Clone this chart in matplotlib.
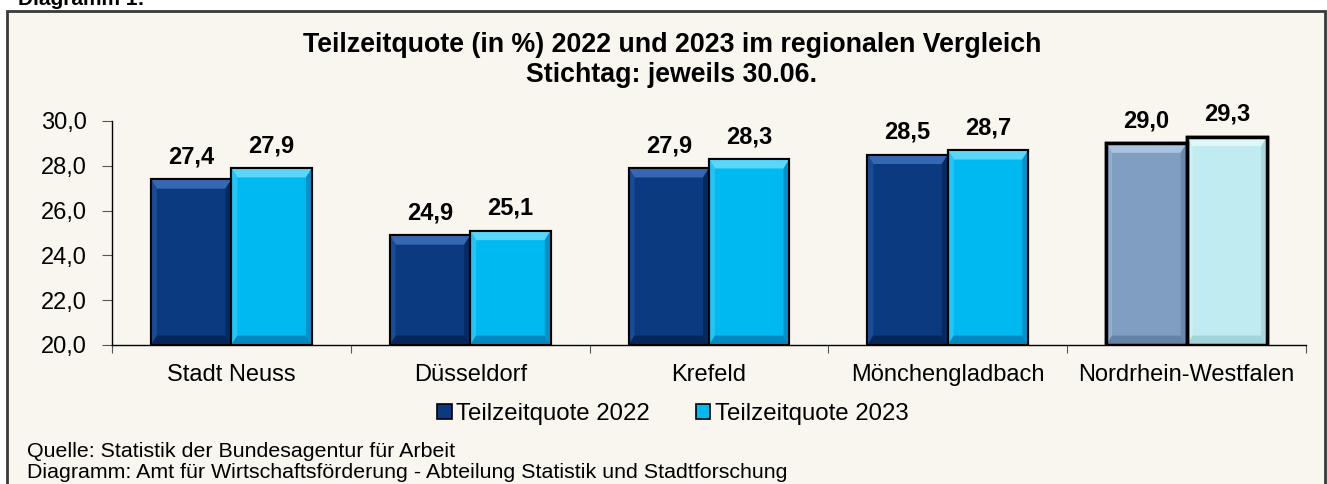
import matplotlib.pyplot as plt
import numpy as np
from matplotlib.patches import Patch, Polygon, Rectangle

plt.rcParams["font.family"] = ["Liberation Sans", "DejaVu Sans"]

# ---- data ----
regions = ["Stadt Neuss", "Düsseldorf", "Krefeld", "Mönchengladbach", "Nordrhein-Westfalen"]
quote_2022 = [27.4, 24.9, 27.9, 28.5, 29.0]
quote_2023 = [27.9, 25.1, 28.3, 28.7, 29.3]
series_labels = ["Teilzeitquote 2022", "Teilzeitquote 2023"]
y_ticks = [20.0, 22.0, 24.0, 26.0, 28.0, 30.0]

Y_MIN, Y_MAX = 20.0, 30.0
BG = "#f8f6ee"

# face, top bevel, left bevel, right bevel, bottom bevel
PAL_22 = ("#0b3a80", "#3567b3", "#1a4b96", "#062b62", "#05265a")
PAL_23 = ("#00b9f0", "#5ad6f9", "#22c5f5", "#0093cc", "#0089c0")
PAL_22_NRW = ("#7f9ec0", "#a9c3de", "#90afcf", "#6a89ab", "#6583a5")
PAL_23_NRW = ("#c0ebf0", "#e0f7f9", "#cff1f5", "#a8d9df", "#a3d4da")


def bevel(ax, rect, pal, bx=0.025, by=0.42):
    """Fake the Excel bevel look with four trapezoids around the bar face."""
    x0, y0 = rect.get_x(), rect.get_y()
    x1, y1 = x0 + rect.get_width(), y0 + rect.get_height()
    face, top, left, right, bottom = pal
    polys = [
        ([(x0, y1), (x1, y1), (x1 - bx, y1 - by), (x0 + bx, y1 - by)], top),
        ([(x0, y0), (x0, y1), (x0 + bx, y1 - by), (x0 + bx, y0 + by)], left),
        ([(x1, y0), (x1, y1), (x1 - bx, y1 - by), (x1 - bx, y0 + by)], right),
        ([(x0, y0), (x1, y0), (x1 - bx, y0 + by), (x0 + bx, y0 + by)], bottom),
    ]
    for verts, col in polys:
        ax.add_patch(Polygon(verts, closed=True, facecolor=col, edgecolor="none", zorder=3))


fig = plt.figure(figsize=(13.27, 4.84), dpi=100, facecolor="white")

# outer frame of the chart object
fig.patches.append(
    Rectangle((7 / 1327, -0.05), 1318 / 1327, 1.05 - 11 / 484, transform=fig.transFigure,
              facecolor=BG, edgecolor="#3a3a3a", linewidth=2, zorder=-5)
)

ax = fig.add_axes([112 / 1327, 1 - 345 / 484, 1194 / 1327, 224 / 484])
ax.set_facecolor("none")

x = np.arange(len(regions))
width = 0.337
h22 = [v - Y_MIN for v in quote_2022]
h23 = [v - Y_MIN for v in quote_2023]
bars22 = ax.bar(x - width / 2, h22, width, bottom=Y_MIN, color=PAL_22[0], edgecolor="black",
                linewidth=1.5, zorder=2)
bars23 = ax.bar(x + width / 2, h23, width, bottom=Y_MIN, color=PAL_23[0], edgecolor="black",
                linewidth=1.5, zorder=2)

last = len(regions) - 1
for i, (r22, r23) in enumerate(zip(bars22, bars23)):
    if i == last:
        r22.set_facecolor(PAL_22_NRW[0])
        r23.set_facecolor(PAL_23_NRW[0])
        r22.set_linewidth(2.5)
        r23.set_linewidth(2.5)
        bevel(ax, r22, PAL_22_NRW)
        bevel(ax, r23, PAL_23_NRW)
    else:
        bevel(ax, r22, PAL_22)
        bevel(ax, r23, PAL_23)
    # redraw outlines above the bevel pieces
    for r in (r22, r23):
        ax.add_patch(Rectangle((r.get_x(), r.get_y()), r.get_width(), r.get_height(),
                               facecolor="none", edgecolor="black",
                               linewidth=r.get_linewidth(), zorder=4))

for rects, vals in ((bars22, quote_2022), (bars23, quote_2023)):
    for r, v in zip(rects, vals):
        ax.annotate(f"{v:.1f}".replace(".", ","), (r.get_x() + r.get_width() / 2, v),
                    xytext=(0, 11.5), textcoords="offset points", ha="center",
                    va="baseline", fontsize=17, fontweight="bold", zorder=5)

ax.set_xlim(-0.5, len(regions) - 0.5)
ax.set_ylim(Y_MIN, Y_MAX)
ax.set_yticks(y_ticks)
ax.set_yticklabels([f"{t:.1f}".replace(".", ",") for t in y_ticks], fontsize=17)
ax.set_xticks(np.arange(len(regions) + 1) - 0.5)
ax.set_xticklabels([])
ax.set_xticks(x, minor=True)
ax.set_xticklabels(regions, minor=True, fontsize=17)
ax.tick_params(axis="x", which="minor", length=0, pad=14)
ax.tick_params(axis="x", which="major", length=6, color="#555555", direction="out")
ax.tick_params(axis="y", length=7, color="#555555", direction="out", pad=11)
for side in ("top", "right"):
    ax.spines[side].set_visible(False)
for side in ("left", "bottom"):
    ax.spines[side].set_color("black")
    ax.spines[side].set_linewidth(1.0)

handles = [
    Patch(facecolor=PAL_22[0], edgecolor="black", linewidth=1.2),
    Patch(facecolor=PAL_23[0], edgecolor="black", linewidth=1.2),
]
fig.legend(handles, series_labels, loc="center", bbox_to_anchor=(673 / 1327, 1 - 414 / 484),
           ncol=2, frameon=False, fontsize=17.3, handlelength=0.6, handleheight=0.6,
           handletextpad=0.2, columnspacing=1.9)

fig.text(672 / 1327, 1 - 52 / 484, "Teilzeitquote (in %) 2022 und 2023 im regionalen Vergleich",
         ha="center", va="baseline", fontsize=19.3, fontweight="bold")
fig.text(672 / 1327, 1 - 82 / 484, "Stichtag: jeweils 30.06.",
         ha="center", va="baseline", fontsize=19.3, fontweight="bold")
fig.text(18 / 1327, 1 - 5 / 484, "Diagramm 1:", ha="left", va="baseline",
         fontsize=15, fontweight="bold")
fig.text(27 / 1327, 1 - 457 / 484, "Quelle: Statistik der Bundesagentur für Arbeit",
         ha="left", va="baseline", fontsize=15.4)
fig.text(27 / 1327, 1 - 478 / 484,
         "Diagramm: Amt für Wirtschaftsförderung - Abteilung Statistik und Stadtforschung",
         ha="left", va="baseline", fontsize=15.4)

fig.savefig("out.png", dpi=100, facecolor=fig.get_facecolor())
